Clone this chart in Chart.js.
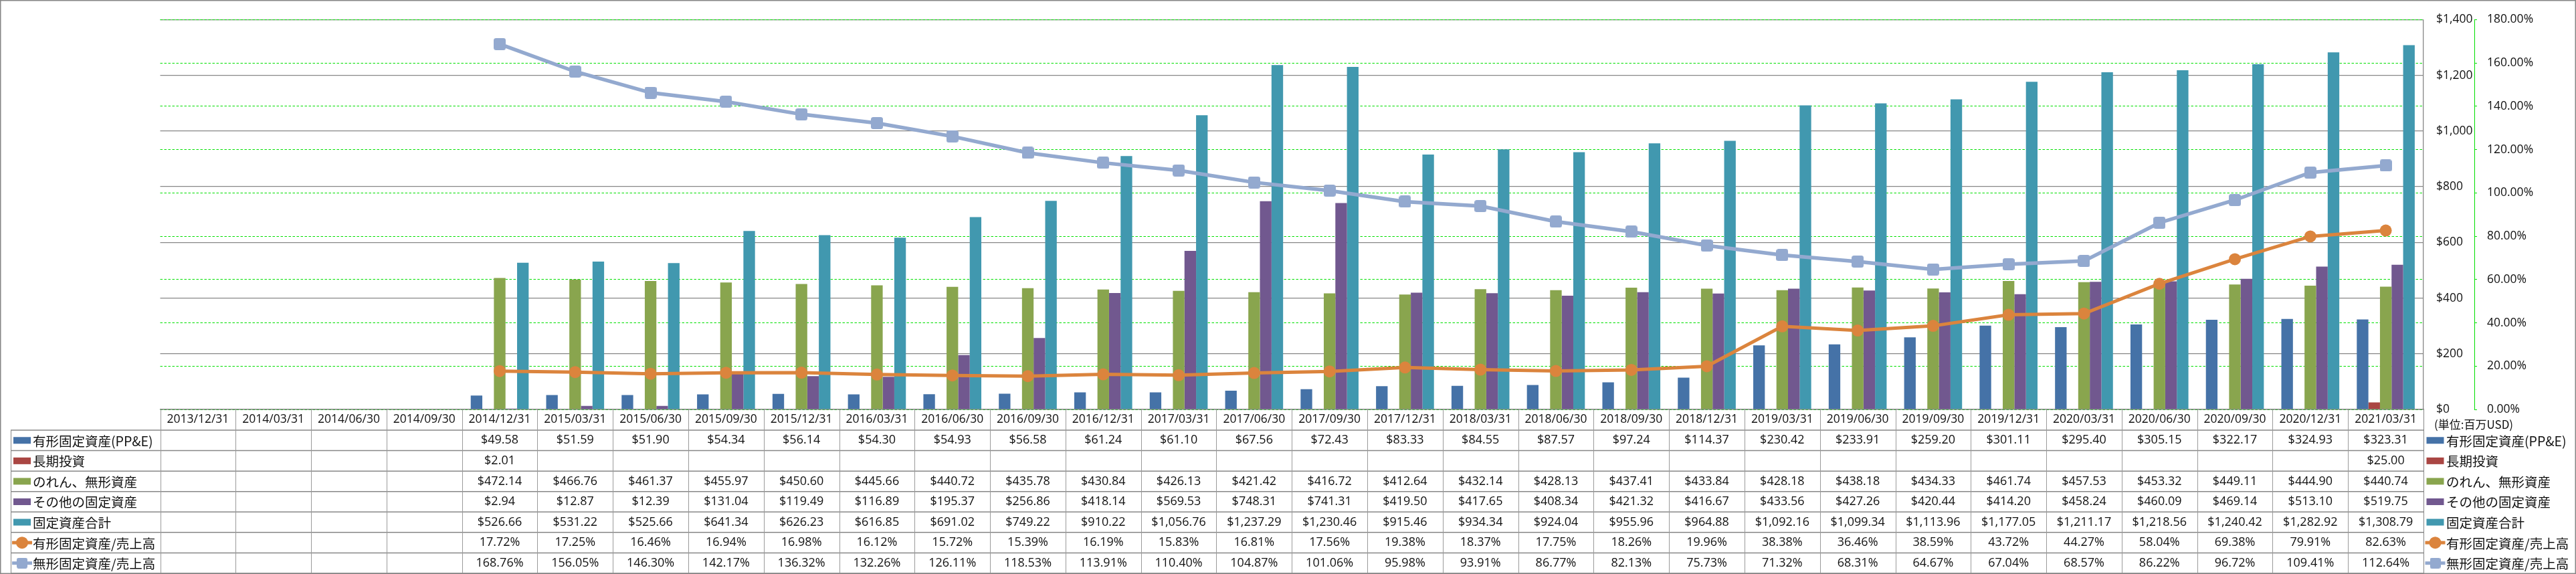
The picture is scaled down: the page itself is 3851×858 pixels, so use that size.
<!DOCTYPE html>
<html><head><meta charset="utf-8">
<script src="https://cdn.jsdelivr.net/npm/chart.js@4.4.0/dist/chart.umd.min.js"></script>
<style>html,body{margin:0;padding:0;background:#fff;overflow:hidden}canvas{display:block}</style>
</head><body>
<canvas id="c" width="3851" height="858"></canvas>
<script>
const categories = ['2013/12/31','2014/03/31','2014/06/30','2014/09/30','2014/12/31','2015/03/31','2015/06/30','2015/09/30','2015/12/31','2016/03/31','2016/06/30','2016/09/30','2016/12/31','2017/03/31','2017/06/30','2017/09/30','2017/12/31','2018/03/31','2018/06/30','2018/09/30','2018/12/31','2019/03/31','2019/06/30','2019/09/30','2019/12/31','2020/03/31','2020/06/30','2020/09/30','2020/12/31','2021/03/31'];
const ppe = [null,null,null,null,49.58,51.59,51.90,54.34,56.14,54.30,54.93,56.58,61.24,61.10,67.56,72.43,83.33,84.55,87.57,97.24,114.37,230.42,233.91,259.20,301.11,295.40,305.15,322.17,324.93,323.31];
const longTermInv = [null,null,null,null,2.01,null,null,null,null,null,null,null,null,null,null,null,null,null,null,null,null,null,null,null,null,null,null,null,null,25.00];
const goodwill = [null,null,null,null,472.14,466.76,461.37,455.97,450.60,445.66,440.72,435.78,430.84,426.13,421.42,416.72,412.64,432.14,428.13,437.41,433.84,428.18,438.18,434.33,461.74,457.53,453.32,449.11,444.90,440.74];
const otherFixed = [null,null,null,null,2.94,12.87,12.39,131.04,119.49,116.89,195.37,256.86,418.14,569.53,748.31,741.31,419.50,417.65,408.34,421.32,416.67,433.56,427.26,420.44,414.20,458.24,460.09,469.14,513.10,519.75];
const totalFixed = [null,null,null,null,526.66,531.22,525.66,641.34,626.23,616.85,691.02,749.22,910.22,1056.76,1237.29,1230.46,915.46,934.34,924.04,955.96,964.88,1092.16,1099.34,1113.96,1177.05,1211.17,1218.56,1240.42,1282.92,1308.79];
const ppeToSales = [null,null,null,null,17.72,17.25,16.46,16.94,16.98,16.12,15.72,15.39,16.19,15.83,16.81,17.56,19.38,18.37,17.75,18.26,19.96,38.38,36.46,38.59,43.72,44.27,58.04,69.38,79.91,82.63];
const intangToSales = [null,null,null,null,168.76,156.05,146.30,142.17,136.32,132.26,126.11,118.53,113.91,110.40,104.87,101.06,95.98,93.91,86.77,82.13,75.73,71.32,68.31,64.67,67.04,68.57,86.22,96.72,109.41,112.64];
const seriesNames = ['有形固定資産(PP&E)','長期投資','のれん、無形資産','その他の固定資産','固定資産合計','有形固定資産/売上高','無形固定資産/売上高'];
const unitLabel = '(単位:百万USD)';
const dollarTicks = {min:0, max:1400, step:200};
const pctTicks = {min:0, max:180, step:20};

const COLORS = ['#4572A7','#AA4643','#89A54E','#71588F','#4198AF','#DB843D','#93A9CF'];
const NUMFONT = "'Open Sans','Noto Sans',sans-serif";
const JPFONT = "'Noto Sans CJK JP','Noto Sans',sans-serif";
const GRAY = '#878787';
const GREEN = '#00e000';

function roundSquare(size, r, color){
  const c = document.createElement('canvas'); c.width = size; c.height = size;
  const g = c.getContext('2d'); g.fillStyle = color; g.beginPath();
  g.moveTo(r,0); g.lineTo(size-r,0); g.quadraticCurveTo(size,0,size,r); g.lineTo(size,size-r);
  g.quadraticCurveTo(size,size,size-r,size); g.lineTo(r,size); g.quadraticCurveTo(0,size,0,size-r);
  g.lineTo(0,r); g.quadraticCurveTo(0,0,r,0); g.closePath(); g.fill();
  return c;
}
const squareMarker = roundSquare(18, 3.5, COLORS[6]);

const money = v => '$' + v.toLocaleString('en-US',{minimumFractionDigits:2, maximumFractionDigits:2});
const pct = v => v.toFixed(2) + '%';

const barSeries = [ppe, longTermInv, goodwill, otherFixed, totalFixed];
const lineSeries = [ppeToSales, intangToSales];

const datasets = [];
barSeries.forEach((d,i)=>datasets.push({type:'bar', label:seriesNames[i], data:d, backgroundColor:COLORS[i], borderWidth:0, yAxisID:'y', order:2, categoryPercentage:0.768, barPercentage:1.0}));
datasets.push({type:'line', label:seriesNames[5], data:ppeToSales, borderColor:COLORS[5], backgroundColor:COLORS[5], borderWidth:5, pointRadius:9, pointHoverRadius:9, pointStyle:'circle', pointBorderWidth:0, tension:0, yAxisID:'y1', order:0});
datasets.push({type:'line', label:seriesNames[6], data:intangToSales, borderColor:COLORS[6], backgroundColor:COLORS[6], borderWidth:5.5, pointRadius:9, pointStyle:squareMarker, pointBorderWidth:0, tension:0, yAxisID:'y1', order:1});

const tableRows = [
  {vals:ppe, fmt:money, kind:'bar'},
  {vals:longTermInv, fmt:money, kind:'bar'},
  {vals:goodwill, fmt:money, kind:'bar'},
  {vals:otherFixed, fmt:money, kind:'bar'},
  {vals:totalFixed, fmt:money, kind:'bar'},
  {vals:ppeToSales, fmt:pct, kind:'circle'},
  {vals:intangToSales, fmt:pct, kind:'square'}
];

function drawKey(ctx, kind, color, cx, cy){
  if (kind === 'bar') { ctx.fillStyle = color; ctx.fillRect(cx-13, cy-5, 26, 10); return; }
  ctx.strokeStyle = color; ctx.lineWidth = 5; ctx.beginPath(); ctx.moveTo(cx-15, cy); ctx.lineTo(cx+15, cy); ctx.stroke();
  ctx.fillStyle = color;
  if (kind === 'circle') { ctx.beginPath(); ctx.arc(cx, cy, 9, 0, Math.PI*2); ctx.fill(); }
  else { ctx.drawImage(roundSquare(16, 3, color), cx-8, cy-8); }
}

const tablePlugin = {
  id:'dataTable',
  afterDraw(chart){
    const ctx = chart.ctx; const xs = chart.scales.x; const area = chart.chartArea;
    const n = categories.length; const w = (xs.right - xs.left)/n;
    const top = area.bottom, headBottom = 643, bottom = 857;
    const rowH = (bottom - headBottom)/tableRows.length;
    ctx.save();
    // horizontal lines
    ctx.strokeStyle = GRAY; ctx.lineWidth = 1.5;
    for (let r=0; r<=tableRows.length; r++){
      const y = headBottom + r*rowH;
      ctx.beginPath(); ctx.moveTo(16, y); ctx.lineTo(xs.right, y); ctx.stroke();
    }
    // vertical lines
    ctx.lineWidth = 1; ctx.strokeStyle = '#9a9a9a';
    for (let i=0; i<=n; i++){
      const x = Math.round(xs.left + i*w) + 0.5;
      ctx.beginPath(); ctx.moveTo(x, top); ctx.lineTo(x, bottom); ctx.stroke();
    }
    ctx.strokeStyle = GRAY;
    ctx.beginPath(); ctx.moveTo(16.5, headBottom); ctx.lineTo(16.5, bottom); ctx.stroke();
    ctx.beginPath(); ctx.moveTo(xs.right+0.5, top); ctx.lineTo(xs.right+0.5, bottom); ctx.stroke();
    // header
    ctx.fillStyle = '#111'; ctx.textAlign = 'center'; ctx.textBaseline = 'middle';
    ctx.font = '17.5px ' + NUMFONT;
    categories.forEach((c,i)=>ctx.fillText(c, xs.getPixelForValue(i), (top+headBottom)/2));
    // rows
    tableRows.forEach((row, r)=>{
      const cy = headBottom + (r+0.5)*rowH;
      ctx.font = '18px ' + NUMFONT; ctx.textAlign = 'center'; ctx.fillStyle = '#111';
      row.vals.forEach((v,i)=>{ if (v !== null) ctx.fillText(row.fmt(v), xs.getPixelForValue(i), cy); });
      drawKey(ctx, row.kind, COLORS[r], 33, cy);
      drawKey(ctx, row.kind, COLORS[r], 3640.5, cy);
      ctx.font = '19.5px ' + JPFONT; ctx.textAlign = 'left'; ctx.fillStyle = '#111';
      ctx.fillText(seriesNames[r], 49, cy+1);
      ctx.fillText(seriesNames[r], 3657, cy+1);
    });
    ctx.font = '17px ' + JPFONT; ctx.textAlign = 'left';
    ctx.fillText(unitLabel, 3639, 635);
    // outer border
    ctx.strokeStyle = GRAY; ctx.lineWidth = 1.5;
    ctx.strokeRect(0.75, 0.75, chart.width-1.5, chart.height-1.5);
    ctx.restore();
  }
};

new Chart(document.getElementById('c'), {
  data:{labels:categories, datasets},
  plugins:[tablePlugin],
  options:{
    responsive:false, animation:false, devicePixelRatio:1,
    layout:{padding:{left:239.5, right:0, top:13, bottom:246}},
    plugins:{legend:{display:false}, tooltip:{enabled:false}},
    scales:{
      x:{type:'category', offset:true, grid:{display:false, drawTicks:false}, ticks:{display:false},
         border:{display:true, color:GRAY, width:1.5}, afterFit(s){ s.height = 0; }},
      y:{position:'right', min:dollarTicks.min, max:dollarTicks.max,
         ticks:{stepSize:dollarTicks.step, padding:19, color:'#111', font:{size:17.5, family:NUMFONT},
                callback:v=>'$' + Number(v).toLocaleString('en-US')},
         grid:{color:GRAY, lineWidth:1.3, drawTicks:false},
         border:{display:true, color:GRAY, width:1.3},
         afterFit(s){ s.width = 76; }},
      y1:{position:'right', min:pctTicks.min, max:pctTicks.max,
         ticks:{stepSize:pctTicks.step, padding:15, color:'#111', font:{size:17.5, family:NUMFONT},
                callback:v=>Number(v).toFixed(2)+'%'},
         grid:{color:GREEN, lineWidth:1, drawTicks:true, tickLength:4, tickColor:GREEN, tickBorderDash:[3,2]},
         border:{display:true, color:GREEN, width:1, dash:[3.5,2.5]},
         afterFit(s){ s.width = 152; }}
    }
  }
});
// dashed green grid lines for the percent axis
Chart.register({id:'noop'});
</script>
</body></html>
